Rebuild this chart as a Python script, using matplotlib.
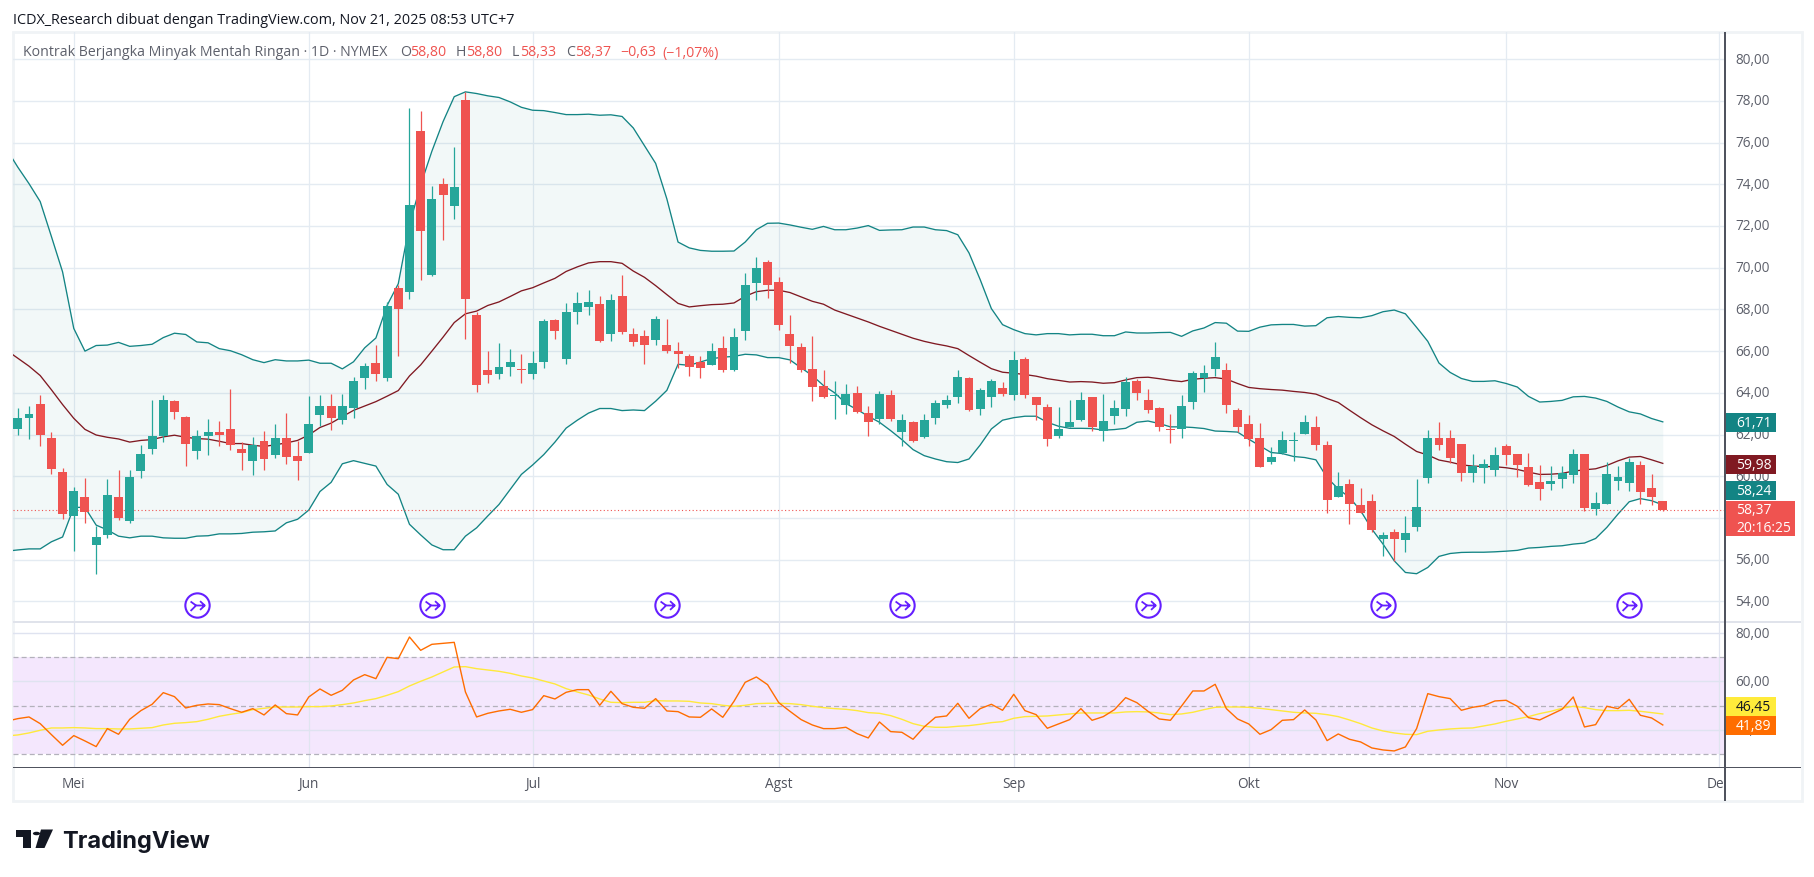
import numpy as np
import matplotlib
matplotlib.use("Agg")
import matplotlib.pyplot as plt
from matplotlib.patches import Rectangle, Polygon, Circle
from matplotlib.path import Path
from matplotlib.transforms import ScaledTranslation

W, H = 1814, 878
FONT = "Open Sans"
plt.rcParams["font.family"] = [FONT, "DejaVu Sans"]

# candles
opens = [62.27,62.8,63.47,61.84,60.2,58.1,59.0,56.73,57.2,59.0,
         57.87,60.25,61.33,61.95,63.62,62.85,61.2,61.95,62.13,62.27,
         61.33,60.75,61.7,61.0,61.84,60.97,61.1,62.95,63.35,62.72,
         63.28,64.7,65.42,64.7,69.05,68.85,76.55,69.65,74.0,72.95,
         78.05,67.75,65.1,64.9,65.25,65.15,64.9,65.5,67.5,65.6,
         67.9,68.13,68.25,66.8,68.66,66.84,66.74,66.55,66.31,66.03,
         65.79,65.5,65.35,66.17,65.11,66.98,69.28,70.29,69.33,66.84,
         66.22,65.16,64.35,63.84,63.44,64.01,63.05,62.77,63.92,62.14,
         62.58,61.9,62.81,63.44,63.82,64.73,63.25,63.82,64.25,63.92,
         65.64,63.82,63.34,61.95,62.38,62.72,63.82,62.19,62.91,63.25,
         64.59,63.68,63.29,62.29,62.29,63.58,64.73,65.16,65.09,63.17,
         62.5,61.83,60.68,61.11,61.70,62.02,62.36,61.5,59.0,59.63,
         58.62,58.81,56.99,57.32,56.94,57.56,59.91,61.83,61.83,61.54,
         60.15,60.39,60.3,61.45,61.06,60.44,59.72,59.63,59.87,60.06,
         61.06,58.43,58.67,59.77,59.67,60.54,59.43,58.80]
highs = [63.28,63.38,63.92,62.1,60.4,59.5,59.92,57.6,59.85,60.32,
         60.32,61.48,63.65,63.9,63.65,62.9,62.2,62.73,62.65,64.2,
         61.65,61.9,62.15,62.52,63.05,61.7,63.85,63.92,63.95,63.95,
         64.77,65.45,66.3,68.35,69.15,77.65,77.5,73.9,74.3,75.8,
         78.4,67.9,66.0,66.4,66.1,65.85,66.0,67.55,67.55,68.3,
         68.85,68.95,68.65,68.75,69.67,67.13,67.03,67.7,67.56,66.46,
         65.88,65.79,66.41,66.74,67.13,69.76,70.53,70.39,69.57,67.75,
         66.41,66.74,65.11,64.59,64.44,64.35,63.39,64.11,64.16,63.0,
         62.67,63.0,63.68,63.92,65.11,64.78,64.25,64.68,64.54,66.03,
         65.74,63.82,63.49,63.34,63.68,64.06,63.82,63.96,63.68,64.78,
         64.68,64.2,63.34,63.0,63.92,65.07,65.35,66.43,65.43,63.27,
         62.93,62.55,61.4,62.17,62.12,62.93,62.89,61.69,60.2,59.87,
         59.43,59.15,57.32,57.47,58.09,59.87,62.21,62.6,62.21,61.54,
         61.06,60.82,61.4,61.54,61.06,61.11,60.54,60.49,60.49,61.3,
         61.06,59.24,60.68,60.49,60.87,60.73,60.1,58.80]
lows = [62.0,61.8,61.45,60.13,57.95,56.4,57.75,55.3,57.05,57.9,
        57.75,59.92,61.07,61.65,62.75,60.47,60.83,61.02,61.45,61.27,
        60.32,60.07,60.32,60.87,60.6,59.8,61.1,62.4,62.2,62.52,
        62.8,64.2,64.57,64.57,65.75,68.5,69.4,69.6,71.35,72.35,
        66.6,64.05,64.45,64.65,64.8,64.45,64.65,65.2,66.57,65.37,
        67.3,67.75,66.45,66.5,66.8,66.23,65.4,66.31,65.93,65.2,
        64.83,64.73,65.35,65.02,65.07,66.55,68.47,68.57,67.03,65.45,
        65.02,63.63,63.73,62.77,63.0,63.04,61.95,62.53,62.67,61.47,
        61.66,61.86,62.53,63.29,63.53,63.15,62.96,63.34,63.87,63.68,
        63.73,62.72,61.47,61.86,62.34,62.67,62.19,61.71,62.53,62.91,
        63.68,63.05,62.19,61.62,61.86,63.25,64.06,64.82,63.03,62.12,
        61.45,60.44,60.58,61.06,60.73,62.02,61.26,58.23,59.0,57.71,
        58.23,57.31,56.17,55.93,56.36,57.37,59.67,61.26,60.63,59.77,
        59.72,59.67,60.01,60.54,59.96,59.53,58.86,59.34,59.43,59.67,
        58.33,58.14,58.67,59.34,59.29,58.67,58.62,58.33]
closes = [62.8,63.0,62.0,60.36,58.2,59.3,58.28,57.1,59.1,58.02,
          59.95,61.05,61.95,63.65,63.1,61.55,61.95,62.13,62.0,61.5,
          61.13,61.5,60.85,61.84,60.92,60.75,62.52,63.38,62.8,63.38,
          64.57,65.28,64.9,68.15,68.0,73.0,71.75,73.3,73.47,73.87,
          68.5,64.4,64.85,65.25,65.5,65.1,65.45,67.45,66.95,67.9,
          68.3,68.35,66.5,68.45,66.94,66.46,66.31,67.56,66.03,65.88,
          65.26,65.21,66.03,65.11,66.7,69.19,70.0,69.19,67.27,66.27,
          65.11,64.3,63.82,63.87,63.96,63.1,62.62,63.96,62.77,62.72,
          61.71,62.72,63.53,63.68,64.78,63.2,64.16,64.59,63.96,65.59,
          63.92,63.44,61.81,62.29,62.62,63.68,62.34,62.67,63.29,64.54,
          64.01,63.2,62.34,62.24,63.39,64.97,64.97,65.74,63.41,62.36,
          61.78,60.44,60.92,61.73,61.73,62.6,61.5,58.86,59.53,58.67,
          58.23,57.42,57.18,56.99,57.28,58.52,61.83,61.5,60.87,60.15,
          60.49,60.58,61.02,61.02,60.54,59.58,59.39,59.77,60.15,61.06,
          58.47,58.71,60.11,59.96,60.68,59.24,59.0,58.37]

# bollinger bands, first value sits one bar left of the first candle
upper = [75.68,74.82,74.03,73.17,71.5,69.8,67.09,66.0,66.27,66.29,66.42,
         66.23,66.27,66.33,66.65,66.86,66.8,66.44,66.4,66.12,66.02,
         65.83,65.59,65.45,65.59,65.53,65.53,65.57,65.42,65.42,65.15,
         65.49,66.16,66.63,68.19,69.23,72.07,73.97,75.58,77.0,78.2,
         78.43,78.35,78.24,78.16,77.95,77.69,77.55,77.53,77.44,77.34,
         77.34,77.36,77.31,77.33,77.25,76.7,75.85,75.0,73.3,71.23,
         70.95,70.83,70.79,70.79,70.8,71.23,71.82,72.13,72.14,72.05,
         71.94,71.84,71.98,71.82,71.82,71.9,72.02,71.79,71.81,71.82,
         71.95,71.95,71.82,71.78,71.58,70.71,69.43,68.04,67.27,67.03,
         66.84,66.78,66.84,66.84,66.78,66.81,66.81,66.74,66.74,66.92,
         66.87,66.87,66.89,66.9,66.71,66.97,67.11,67.37,67.34,66.96,
         66.95,67.15,67.26,67.28,67.28,67.2,67.22,67.6,67.66,67.62,
         67.6,67.7,67.89,67.97,67.79,67.14,66.47,65.43,64.98,64.69,
         64.55,64.55,64.58,64.45,64.28,63.83,63.56,63.59,63.64,63.81,
         63.83,63.75,63.59,63.32,63.09,62.99,62.77,62.61]
basis = [66.04,65.66,65.28,64.83,64.15,63.44,62.78,62.25,61.98,61.87,61.79,
         61.64,61.72,61.76,61.89,61.97,61.87,61.81,61.78,61.68,61.57,
         61.57,61.49,61.43,61.51,61.6,61.72,61.98,62.34,62.55,62.86,
         63.16,63.37,63.58,63.84,64.11,64.81,65.34,66.0,66.67,67.37,
         67.79,67.92,68.19,68.36,68.62,68.89,69.04,69.27,69.49,69.82,
         70.04,70.23,70.29,70.29,70.21,69.84,69.54,69.14,68.71,68.29,
         68.12,68.18,68.23,68.25,68.31,68.63,68.85,68.92,68.92,68.81,
         68.6,68.39,68.25,67.97,67.78,67.59,67.4,67.19,67.0,66.81,
         66.62,66.47,66.35,66.25,66.12,65.79,65.47,65.16,64.99,64.94,
         64.88,64.8,64.68,64.6,64.52,64.54,64.52,64.46,64.49,64.62,
         64.73,64.75,64.68,64.6,64.54,64.65,64.7,64.73,64.66,64.45,
         64.26,64.2,64.16,64.13,64.07,64.02,63.94,63.73,63.54,63.17,
         62.81,62.47,62.18,61.91,61.54,61.19,61.02,60.78,60.68,60.55,
         60.49,60.47,60.46,60.41,60.33,60.2,60.09,60.1,60.14,60.25,
         60.31,60.36,60.52,60.74,60.92,60.95,60.79,60.62]
lower = [56.41,56.47,56.52,56.52,56.86,57.09,58.51,58.51,57.66,57.43,57.13,
         57.05,57.13,57.13,57.05,57.03,57.03,57.13,57.15,57.24,57.24,
         57.26,57.32,57.34,57.38,57.77,57.94,58.38,59.27,59.71,60.6,
         60.75,60.62,60.49,59.61,59.14,57.7,57.19,56.71,56.48,56.48,
         57.13,57.53,58.1,58.65,59.37,60.09,60.54,61.04,61.64,62.31,
         62.69,63.03,63.25,63.25,63.15,63.18,63.15,63.6,64.12,65.37,
         65.32,65.48,65.64,65.71,65.75,65.85,65.82,65.69,65.69,65.58,
         65.2,64.83,64.35,64.0,63.49,63.2,62.88,62.59,62.19,61.76,
         61.28,60.99,60.83,60.7,60.66,60.83,61.5,62.27,62.69,62.81,
         62.88,62.88,62.59,62.4,62.3,62.3,62.29,62.21,62.24,62.3,
         62.59,62.65,62.53,62.37,62.37,62.34,62.29,62.17,62.15,62.12,
         61.78,61.46,61.14,61.09,60.95,60.9,60.79,59.94,59.39,58.99,
         58.35,57.47,56.75,55.95,55.39,55.33,55.63,56.16,56.3,56.35,
         56.36,56.36,56.38,56.41,56.45,56.56,56.59,56.64,56.67,56.75,
         56.8,57.02,57.55,58.19,58.78,58.93,58.83,58.63]

# rsi pane, same start as the bands
rsi = [43.5,44.6,45.29,42.53,37.99,33.58,37.58,35.37,33.03,40.47,38.13,
       44.33,47.91,50.52,55.34,53.69,49.01,50.11,50.66,50.39,48.73,
       47.22,48.73,46.12,50.25,46.67,46.12,53.55,56.86,54.24,56.31,
       60.58,62.78,61.13,69.94,69.39,78.35,72.84,75.32,75.73,76.14,
       55.62,45.29,46.8,47.77,48.46,47.22,48.32,54.1,52.73,55.48,
       56.58,56.58,50.11,55.9,50.8,49.28,48.87,52.87,47.77,47.49,
       45.29,45.15,48.6,45.15,51.76,59.61,61.82,58.65,51.21,47.63,
       44.19,41.98,40.47,40.47,41.02,38.4,36.61,43.22,39.23,38.95,
       36.06,41.16,45.15,45.7,50.94,44.74,48.73,50.52,48.04,54.66,
       47.91,46.25,40.61,42.4,44.19,48.73,43.91,45.43,48.32,53.28,
       51.21,47.63,44.46,43.91,49.83,56.03,56.03,58.79,48.73,44.46,
       42.4,38.13,40.05,43.91,44.19,48.18,44.05,35.51,38.26,36.06,
       34.96,32.48,31.65,31.24,32.89,40.47,54.93,53.69,52.87,48.04,
       49.28,49.97,51.9,52.18,49.7,45.01,44.05,46.25,48.46,53.55,
       41.16,42.12,49.7,48.73,52.59,45.98,44.88,41.98]
rsi_ma = [37.44,37.85,38.68,39.78,40.74,40.74,40.88,40.74,40.47,40.47,40.33,
          40.33,40.61,40.88,41.98,42.67,42.95,43.36,44.33,45.56,46.39,
          47.08,48.32,48.87,49.42,49.42,49.42,49.56,49.56,49.83,50.39,
          51.07,52.04,52.87,54.24,55.76,58.1,60.03,61.82,63.88,65.95,
          66.09,65.26,64.71,64.16,63.33,62.23,61.4,60.17,58.93,57.0,
          55.62,54.38,52.73,51.35,51.21,51.35,51.35,52.04,51.9,51.9,
          51.76,51.07,50.8,50.11,49.7,50.11,50.8,50.94,50.94,50.8,
          50.39,49.7,49.15,48.73,48.46,47.91,47.08,46.8,45.84,44.33,
          42.53,41.43,41.02,41.02,41.43,41.71,42.26,42.95,43.36,44.74,
          45.43,45.56,45.7,46.12,46.53,46.94,46.94,46.94,46.94,47.36,
          47.49,47.36,46.94,46.25,46.53,47.22,48.32,49.28,49.42,49.42,
          49.28,48.87,48.32,47.77,47.22,46.94,46.8,46.25,45.43,44.05,
          42.53,40.74,39.5,38.68,38.13,37.99,39.37,39.92,40.33,40.61,
          40.74,41.57,42.4,43.5,44.46,45.43,46.67,47.63,48.87,49.7,
          49.15,48.32,47.91,47.91,48.04,47.63,47.08,46.53]

month_labels = ["Mei", "Jun", "Jul", "Agst", "Sep", "Okt", "Nov", "Des"]
month_bars = [5, 26, 46, 68, 89, 110, 133, 152]
marker_bars = [16, 37, 58, 79, 101, 122, 144]
price_ticks = list(range(54, 82, 2))
rsi_ticks = [80, 60, 40]
rsi_levels = [70, 50, 30]

GREEN = "#26a69a"
RED = "#ef5350"
TEAL = "#138484"
MAROON = "#801922"
GRID = "#e4ebf2"
AXIS = "#50535e"
TEXT = "#5d606b"
PURPLE = "#651fff"
XLIM = (-0.43, 152.56)


def px_axes(fig, x0, y0, x1, y1):
    return fig.add_axes([x0 / W, 1 - y1 / H, (x1 - x0) / W, (y1 - y0) / H])


def px_text(fig, x, y, s, **kw):
    kw.setdefault("va", "center")
    kw.setdefault("ha", "left")
    return fig.text(x / W, 1 - y / H, s, **kw)


def px_rect(fig, x0, y0, x1, y1, **kw):
    r = Rectangle((x0 / W, 1 - y1 / H), (x1 - x0) / W, (y1 - y0) / H,
                  transform=fig.transFigure, **kw)
    fig.add_artist(r)
    return r


def price_label(fig, y0, y1, color, lines, textcolor="white", x1=1776):
    px_rect(fig, 1726, y0, x1, y1, facecolor=color, edgecolor="none", zorder=5)
    step = (y1 - y0) / len(lines)
    for i, s in enumerate(lines):
        px_text(fig, 1736, y0 + step * (i + 0.5), s, color=textcolor, fontsize=10, zorder=6)


def clean_axes(ax):
    for s in ax.spines.values():
        s.set_visible(False)
    ax.set_xlim(*XLIM)
    ax.set_xticks([])
    ax.patch.set_alpha(0)


def lift_tick_labels(fig, ax, pixels):
    # scale labels sit a little above their gridline
    offset = ScaledTranslation(0, pixels / 100, fig.dpi_scale_trans)
    for tick in ax.yaxis.get_major_ticks():
        tick.label2.set_transform(tick.label2.get_transform() + offset)


fig = plt.figure(figsize=(W / 100, H / 100), dpi=100, facecolor="white")

# frame round the chart
px_rect(fig, 12.5, 32.5, 1801.5, 802, facecolor="none", edgecolor="#f0f3f6", linewidth=2, zorder=-1)

# main pane
ax = px_axes(fig, 13, 33, 1725, 623)
clean_axes(ax)
ax.set_ylim(53.015, 81.3)
ax.yaxis.tick_right()
ax.set_yticks(price_ticks)
ax.set_yticklabels(["%d,00" % t for t in price_ticks], color=TEXT, fontsize=9.8)
ax.tick_params(axis="y", length=0, pad=7.2)
ax.grid(axis="y", color=GRID, linewidth=1.0)
ax.set_axisbelow(True)
lift_tick_labels(fig, ax, 2)
for m in month_bars:
    ax.axvline(m, color=GRID, linewidth=0.9, zorder=0)

bx = np.arange(-1, len(closes))
ax.fill_between(bx, lower, upper, color=TEAL, alpha=0.05, linewidth=0, zorder=1)
ax.plot(bx, upper, color=TEAL, linewidth=0.95, zorder=2)
ax.plot(bx, lower, color=TEAL, linewidth=0.95, zorder=2)
ax.plot(bx, basis, color=MAROON, linewidth=0.95, zorder=2)
ax.axhline(closes[-1], color=RED, linewidth=0.8, linestyle=(0, (1, 2.2)), zorder=2)

x = np.arange(len(closes))
o = np.array(opens)
c = np.array(closes)
cols = np.where(c >= o, GREEN, RED)
ax.vlines(x, lows, highs, colors=cols, linewidth=0.9, zorder=3)
ax.bar(x, np.maximum(np.abs(c - o), 0.05), bottom=np.minimum(o, c), width=0.8,
       color=cols, linewidth=0, zorder=4)

# contract roll markers: circle plus the small merging arrow
arrow = Path([(-0.95, 0.55), (-0.2, 0.0), (-0.95, -0.75), (-0.2, 0.0), (1.0, 0.0),
              (0.35, 0.6), (1.0, 0.0), (0.35, -0.6)],
             [Path.MOVETO, Path.LINETO, Path.MOVETO, Path.LINETO, Path.LINETO,
              Path.MOVETO, Path.LINETO, Path.LINETO])
my = np.full(len(marker_bars), 53.83)
ax.plot(marker_bars, my, linestyle="none", marker="o", markersize=17.5, markerfacecolor="white",
        markeredgecolor=PURPLE, markeredgewidth=1.5, zorder=6, clip_on=False)
ax.plot(marker_bars, my, linestyle="none", marker=arrow, markersize=10.5, markerfacecolor="none",
        markeredgecolor=PURPLE, markeredgewidth=1.3, zorder=7, clip_on=False)

# rsi pane
ax2 = px_axes(fig, 13, 623, 1725, 768)
clean_axes(ax2)
ax2.set_ylim(24.6, 84.55)
ax2.yaxis.tick_right()
ax2.set_yticks(rsi_ticks)
ax2.set_yticklabels(["%d,00" % t for t in rsi_ticks], color=TEXT, fontsize=9.8)
ax2.tick_params(axis="y", length=0, pad=7.2)
lift_tick_labels(fig, ax2, 2)
ax2.axhspan(min(rsi_levels), max(rsi_levels), color="#f4e7fd", linewidth=0, zorder=0)
ax2.grid(axis="y", color="#dfe3f0", linewidth=1.0)
ax2.set_axisbelow(True)
for m in month_bars:
    ax2.axvline(m, color="#e0e5f0", linewidth=0.9, zorder=0.5)
for lvl in rsi_levels:
    ax2.axhline(lvl, color="#b3b1bb", linewidth=0.9, linestyle=(0, (4, 2.5)), zorder=1)
ax2.plot(bx, rsi_ma, color="#ffe93b", linewidth=1.0, zorder=2)
ax2.plot(bx, rsi, color="#ff6d00", linewidth=1.0, zorder=3)

# time scale
ax3 = px_axes(fig, 13, 768, 1725, 802)
clean_axes(ax3)
ax3.set_ylim(0, 1)
ax3.set_yticks([])
for m, lab in zip(month_bars, month_labels):
    ax3.text(m, 0.5, lab, ha="center", va="center", color="#50535e", fontsize=9.8,
             clip_on=True)

# pane separators and scale lines
px_rect(fig, 13, 622.4, 1801, 624, facecolor="#e0e3eb", edgecolor="none", zorder=4)
px_rect(fig, 13, 767.6, 1801, 769, facecolor=AXIS, edgecolor="none", zorder=4)
px_rect(fig, 1724.4, 33, 1726, 802, facecolor=AXIS, edgecolor="none", zorder=4)

# price scale labels
price_label(fig, 414, 433, TEAL, ["61,71"])
price_label(fig, 456, 475, MAROON, ["59,98"])
price_label(fig, 482, 501, TEAL, ["58,24"])
price_label(fig, 502, 537, RED, ["58,37", "20:16:25"], x1=1795)
price_label(fig, 698, 717, "#ffeb3b", ["46,45"], textcolor="#131722")
price_label(fig, 717, 736, "#ff6d00", ["41,89"])

# header
px_text(fig, 13, 20, "ICDX_Research dibuat dengan TradingView.com, Nov 21, 2025 08:53 UTC+7",
        color="#131722", fontsize=10.35)
legend_parts = [(23, "Kontrak Berjangka Minyak Mentah Ringan \u00b7 1D \u00b7 NYMEX", TEXT),
                (400, "O", TEXT), (410, "58,80", RED),
                (456, "H", TEXT), (466, "58,80", RED),
                (512, "L", TEXT), (520, "58,33", RED),
                (566, "C", TEXT), (575, "58,37", RED),
                (620, "\u22120,63", RED), (662, "(\u22121,07%)", RED)]
for lx, s, col in legend_parts:
    px_text(fig, lx, 53, s, color=col, fontsize=10.2, zorder=6)

# logo
LOGO = "#131722"
fig.add_artist(Polygon([(15.5 / W, 1 - 830.5 / H), (31 / W, 1 - 830.5 / H), (31 / W, 1 - 849 / H),
                        (23.3 / W, 1 - 849 / H), (23.3 / W, 1 - 838 / H), (15.5 / W, 1 - 838 / H)],
                       transform=fig.transFigure, facecolor=LOGO, edgecolor="none"))
fig.add_artist(Polygon([(41 / W, 1 - 830.5 / H), (53 / W, 1 - 830.5 / H), (44.5 / W, 1 - 849 / H),
                        (35.5 / W, 1 - 849 / H)],
                       transform=fig.transFigure, facecolor=LOGO, edgecolor="none"))
fig.add_artist(Circle((36.5 / W, 1 - 834.5 / H), 3.6 / W, transform=fig.transFigure,
                      facecolor=LOGO, edgecolor="none"))
px_text(fig, 62, 848.5, "TradingView", color=LOGO, fontsize=17, fontweight="bold",
        family="Inter", va="baseline")

fig.savefig("out.png", dpi=100, facecolor="white")
